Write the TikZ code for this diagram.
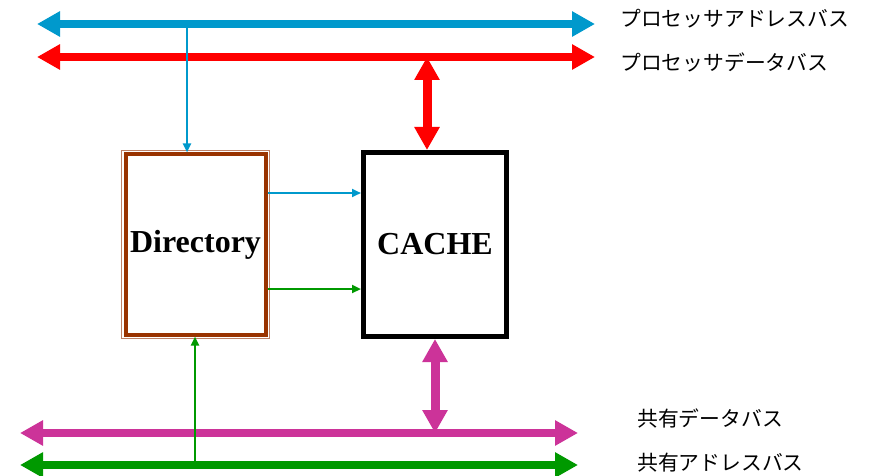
\documentclass[tikz,border=0pt]{standalone}
\usepackage{fontspec}
\setmainfont{Liberation Serif}
\newfontfamily\jpfont{Noto Sans CJK JP}
\usepackage{tikz}
\usetikzlibrary{positioning,arrows.meta,fit}
\definecolor{busblue}{RGB}{0,153,204}
\definecolor{busred}{RGB}{255,0,0}
\definecolor{buspink}{RGB}{204,51,153}
\definecolor{busgreen}{RGB}{0,153,0}
\definecolor{dirbrown}{RGB}{153,51,0}
\definecolor{framebrown}{RGB}{190,130,105}

\begin{document}
\begin{tikzpicture}[x=1pt,y=-1pt,
      bus/.style={line width=8pt,{Triangle[length=23pt,width=24pt]}-{Triangle[length=23pt,width=24pt]}},
      link/.style={line width=2.3pt,-{Triangle[length=9pt,width=8pt]}},
      lbl/.style={anchor=west,inner sep=0pt,font=\jpfont\fontsize{20.8}{24}\selectfont},
      blk/.style={line width=5pt,minimum width=143pt,minimum height=184pt,font=\bfseries\fontsize{32}{38}\selectfont}]
    \useasboundingbox (0,0) rectangle (870,476);
    % blocks
    \node[blk,draw=dirbrown,line width=4pt,minimum width=140pt,minimum height=180pt] (dir) at (195.5,244.5) {Directory};
    \node[draw=framebrown,line width=1pt,inner sep=2pt,fit=(dir)] (dirframe) {};
    \node[blk,draw=black] (cache) at (435,244.5) {CACHE};
    % bus ends and taps
    \coordinate (pab-l) at (37,24);
    \coordinate (pab-r) at (595,24);
    \coordinate (pdb-l) at (37,57);
    \coordinate (pdb-r) at (595,57);
    \coordinate (sdb-l) at (20,433);
    \coordinate (sdb-r) at (578,433);
    \coordinate (sab-l) at (20,465);
    \coordinate (sab-r) at (578,465);
    \coordinate (pab-j) at (187,24);
    \coordinate (pdb-j) at (427,57);
    \coordinate (sdb-j) at (435,433);
    \coordinate (sab-j) at (195,465);
    % buses
    \draw[bus,busblue] (pab-l) -- (pab-r);
    \draw[bus,busred] (pdb-l) -- (pdb-r);
    \draw[bus,buspink] (sdb-l) -- (sdb-r);
    \draw[bus,busgreen] (sab-l) -- (sab-r);
    \draw[bus,busred,line width=9pt] (pdb-j) -- (pdb-j |- cache.north);
    \draw[bus,buspink,line width=9pt] (sdb-j |- cache.south) -- (sdb-j);
    % thin links
    \draw[link,busblue] (pab-j) -- (pab-j |- dir.north);
    \draw[link,busgreen] (sab-j) -- (sab-j |- dir.south);
    \draw[link,busblue] ([yshift=51.5pt]dir.east) -- ([yshift=51.5pt]dir.east -| cache.west);
    \draw[link,busgreen] ([yshift=-44.5pt]dir.east) -- ([yshift=-44.5pt]dir.east -| cache.west);
    % labels
    \node[lbl] (pab-t) at (620,19) {プロセッサアドレスバス};
    \node[lbl] (pdb-t) at (620,62) {プロセッサデータバス};
    \node[lbl] (sdb-t) at (637,418) {共有データバス};
    \node[lbl] (sab-t) at (637,463) {共有アドレスバス};
  \end{tikzpicture}
\end{document}
